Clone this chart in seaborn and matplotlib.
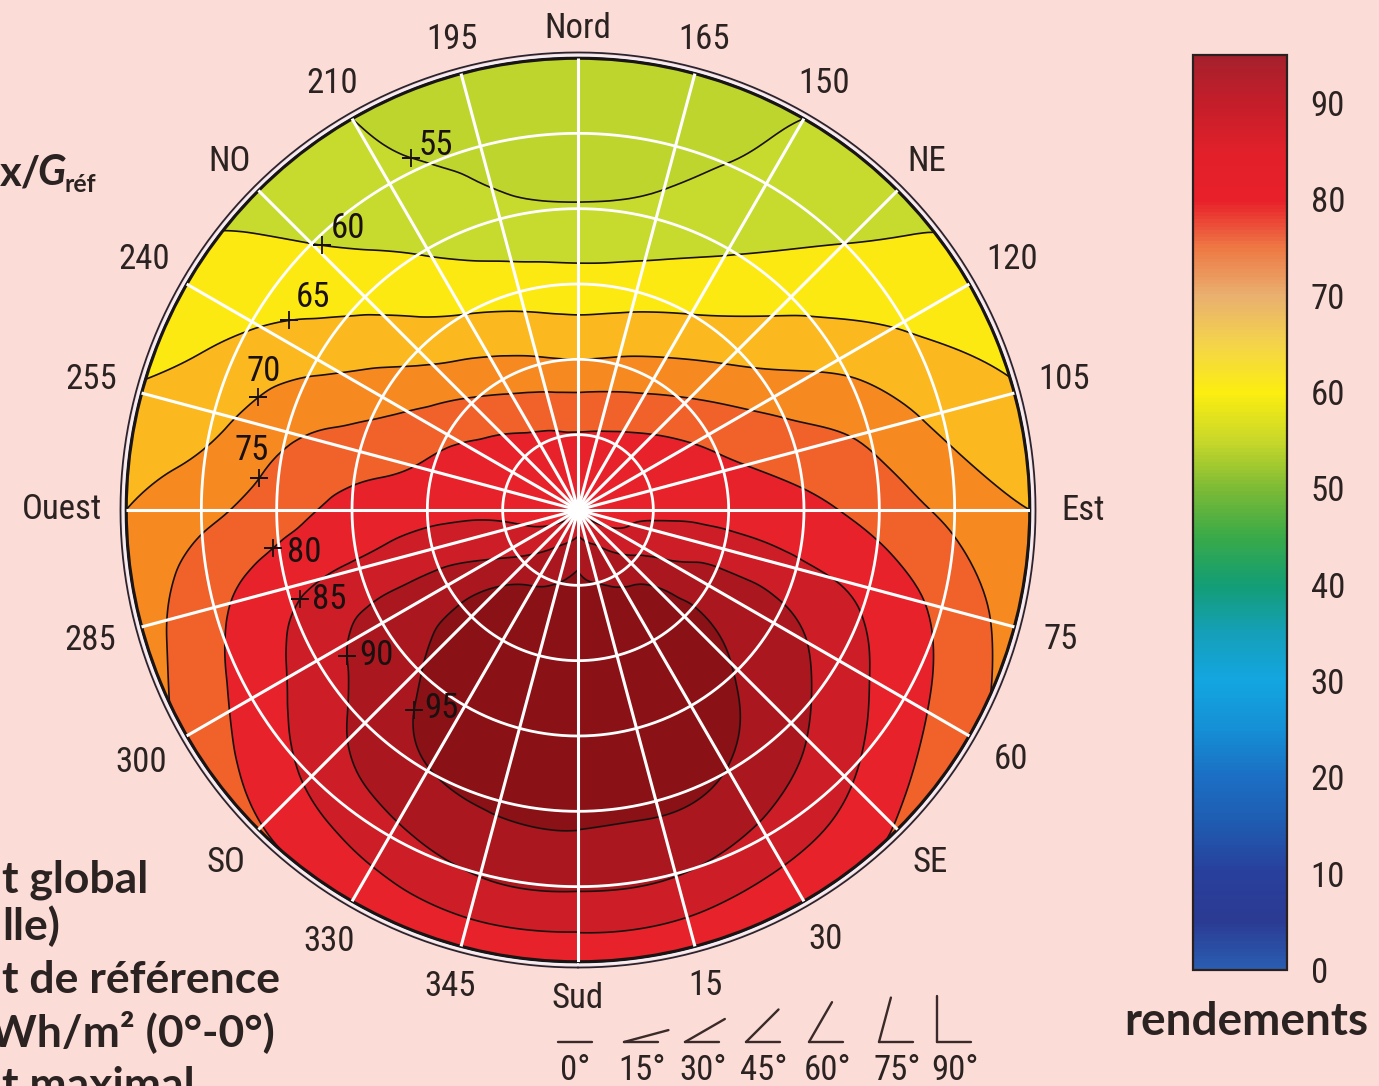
import numpy as np
import pandas as pd
import seaborn as sns
import matplotlib
matplotlib.use("Agg")
import matplotlib.pyplot as plt
import matplotlib.tri as mtri
from matplotlib import font_manager
from matplotlib.colors import ListedColormap, BoundaryNorm, Normalize
from matplotlib.cm import ScalarMappable

# ------------------------------------------------------------------ data
tilt_deg = [0, 10, 20, 30, 45, 60, 75, 90]
azimuth_deg = [0, 15, 30, 45, 60, 75, 90, 105, 120, 135, 150, 165, 180]
# yield (%) read from the disk, one row per tilt, columns = azimuth from south (0) to north (180)
yield_t0 = [84, 84, 84, 84, 84, 84, 84, 84, 84, 84, 84, 84, 84]
yield_t10 = [94, 92.5, 91, 88.5, 86, 84.8, 84.3, 84, 83.5, 83, 82.7, 82.2, 82]
yield_t20 = [96.3, 96.3, 95.8, 94.5, 90.2, 86.5, 84.3, 83, 81.8, 80.5, 79, 78, 77.5]
yield_t30 = [97.3, 97.2, 97, 96, 92.5, 87.3, 83.5, 81, 78.8, 75.8, 73, 71, 70]
yield_t45 = [97.5, 97.5, 97.3, 94.8, 92, 86, 81.5, 77.5, 73, 68.3, 65, 63, 62]
yield_t60 = [96, 95.8, 94.8, 91.5, 87.5, 83.5, 77.8, 74, 68.5, 63.5, 59.5, 56.5, 55.4]
yield_t75 = [90.5, 90.3, 88.5, 86, 82, 78.8, 73.5, 68.5, 64.5, 60, 56.2, 53.8, 52.5]
yield_t90 = [81, 81.2, 80.6, 79.6, 76.2, 72.8, 70, 65.5, 61.75, 58.5, 55, 52.5, 51]

contour_levels = [55, 60, 65, 70, 75, 80, 85, 90, 95]
fill_levels = [50, 55, 60, 65, 70, 75, 80, 85, 90, 95, 100]
band_colors = ["#bed52e", "#c7da2e", "#fde912", "#fbb81f", "#f68a20",
               "#f0622a", "#e8222a", "#cd1d26", "#aa171f", "#8a1116"]
colorbar_ticks = [0, 10, 20, 30, 40, 50, 60, 70, 80, 90]
colorbar_stops = ["#2a5db0", "#2b3a93", "#28409c", "#1f5bb0", "#1b6fc4",
                  "#1590d6", "#13a6e0", "#159fb8", "#139e74", "#3aaa48",
                  "#7dbb35", "#c9d82a", "#fcee10", "#f4d44a", "#e9b070",
                  "#ee7a45", "#e8202a", "#e2202a", "#c41e2a", "#a6202c"]
dir_labels = ["Sud", "15", "30", "SE", "60", "75", "Est", "105", "120", "NE",
              "150", "165", "Nord", "195", "210", "NO", "240", "255", "Ouest",
              "285", "300", "SO", "330", "345"]
dir_label_az = list(range(0, 360, 15))
grid_tilts = [15, 30, 45, 60, 75]
grid_azimuths = list(range(0, 360, 15))
tilt_legend = [0, 15, 30, 45, 60, 75, 90]

# ------------------------------------------------------------------ style
BG = "#fcdcd6"
sns.set_theme(style="white")
avail = {f.name for f in font_manager.fontManager.ttflist}
NARROW, FS = "Liberation Sans", 22
for name, size in [("Roboto Condensed", 25), ("Liberation Sans Narrow", 26),
                   ("Open Sans Condensed", 25)]:
    if name in avail:
        NARROW, FS = name, size
        break
BOLD = "Lato" if "Lato" in avail else "DejaVu Sans"
plt.rcParams["font.family"] = [NARROW, "DejaVu Sans"]
TXT = "#2b2222"

fig = plt.figure(figsize=(13.79, 10.86), dpi=100, facecolor=BG)

# overlay in pixel coordinates for side texts / tilt legend
ax_o = fig.add_axes([0, 0, 1, 1])
ax_o.set_xlim(0, 1379)
ax_o.set_ylim(1086, 0)
ax_o.axis("off")

# ------------------------------------------------------------------ table
table = pd.DataFrame([yield_t0, yield_t10, yield_t20, yield_t30, yield_t45,
                      yield_t60, yield_t75, yield_t90],
                     index=tilt_deg, columns=azimuth_deg)
# symmetric east / west: mirror to 195..360
az_full = azimuth_deg + [360 - a for a in reversed(azimuth_deg[:-1])]
vals_full = np.hstack([table.values, table.values[:, -2::-1]])
ncol = len(az_full)
nrow = len(tilt_deg)
TH, R = np.meshgrid(np.deg2rad(az_full), tilt_deg)
tris = []
for i in range(nrow - 1):
    for j in range(ncol - 1):
        k = i * ncol + j
        tris.append([k, k + 1, k + ncol])
        tris.append([k + 1, k + ncol + 1, k + ncol])
tri = mtri.Triangulation(TH.ravel(), R.ravel(), np.array(tris))
refiner = mtri.UniformTriRefiner(tri)
tri_f, z_f = refiner.refine_field(vals_full.ravel(), subdiv=4)

# ------------------------------------------------------------------ disk
ax = fig.add_axes([126 / 1379, 124 / 1086, 904 / 1379, 904 / 1086], projection="polar")
ax.set_theta_zero_location("S")
ax.set_theta_direction(1)
ax.set_facecolor("none")
ax.grid(False)
ax.set_xticks([])
ax.set_yticks([])

norm_b = BoundaryNorm(fill_levels, len(band_colors))
ax.tricontourf(tri_f, z_f, levels=fill_levels, cmap=ListedColormap(band_colors),
               norm=norm_b, zorder=1, antialiased=True)
cs = ax.tricontour(tri_f, z_f, levels=contour_levels, colors="#1a1010",
                   linewidths=1.2, zorder=2)
ax.set_ylim(0, 90)

th = np.linspace(0, 2 * np.pi, 721)
for r in grid_tilts:
    ax.plot(th, np.full_like(th, r), color="white", lw=2.0, zorder=3)
for a in grid_azimuths:
    ax.plot([np.deg2rad(a)] * 2, [0, 90], color="white", lw=2.2, zorder=3,
            solid_capstyle="butt")
ax.plot([0], [0], "o", color="white", ms=14, alpha=0.6, zorder=3.5)

ax.spines["polar"].set_linewidth(2.6)
ax.spines["polar"].set_color("#1a1414")
ax.plot(th, np.full_like(th, 90.5), color="#f4eef6", lw=1.6, clip_on=False, zorder=5)
ax.plot(th, np.full_like(th, 91.1), color="#2a2430", lw=1.3, clip_on=False, zorder=5)

for az, s in zip(dir_label_az, dir_labels):
    a = np.deg2rad(az)
    rr = (97.2 + 1.1 * len(s) * abs(np.sin(a)) + 0.4 * abs(np.sin(2 * a))
          - 1.3 * max(0.0, -np.cos(a)))
    ax.text(a, rr, s, ha="center", va="center", fontsize=FS, color=TXT,
            clip_on=False)

# contour labels with "+" marks, snapped onto the contour lines
label_anchor_az = [204, 223.6, 237, 251, 263.5, 276, 288, 302, 321]
label_anchor_tilt = [79.6, 73.7, 68.5, 66.9, 65.1, 62.1, 58.1, 54.6, 51.4]
label_offsets = [(7, 12, "left"), (9, 17, "left"), (7, 23, "left"), (5, 26, "center"),
                 (-8, 27, "center"), (14, -4, "left"), (12, 0, "left"),
                 (12, 0, "left"), (10, 2, "left")]
paths = cs.get_paths()
for lev, a0, t0, (dx, dy, ha), p in zip(contour_levels, label_anchor_az,
                                         label_anchor_tilt, label_offsets, paths):
    v = p.vertices
    th0 = np.deg2rad(a0)
    if len(v):
        xs, ys = v[:, 1] * np.sin(v[:, 0]), -v[:, 1] * np.cos(v[:, 0])
        x0, y0 = t0 * np.sin(th0), -t0 * np.cos(th0)
        k = np.argmin((xs - x0) ** 2 + (ys - y0) ** 2)
        pt = (v[k, 0], v[k, 1])
    else:
        pt = (th0, t0)
    ax.plot([pt[0]], [pt[1]], marker="+", ms=13, mew=1.3, color="#1a1010", zorder=6)
    ax.annotate(str(lev), xy=pt, xytext=(dx, dy), textcoords="offset pixels",
                ha=ha, va="center", fontsize=FS, color="#1a1010", zorder=6)

# ------------------------------------------------------------------ colorbar
bar_cmap = sns.blend_palette(colorbar_stops, n_colors=256, as_cmap=True)
cax = fig.add_axes([1193 / 1379, 116 / 1086, 94 / 1379, 915 / 1086])
cb = fig.colorbar(ScalarMappable(norm=Normalize(0, 95), cmap=bar_cmap), cax=cax,
                  ticks=colorbar_ticks)
cb.outline.set_linewidth(1.6)
cb.outline.set_edgecolor("#2a2020")
cax.tick_params(direction="in", length=11, width=1.4, left=True, right=True,
                labelsize=FS, pad=17, colors="#2a2020")
for t in cax.get_yticklabels():
    t.set_fontfamily(NARROW)
    t.set_color(TXT)
ax_o.text(1246, 1022, "rendements", ha="center", va="center", fontsize=33,
          fontweight="bold", family=BOLD, color=TXT)

# ------------------------------------------------------------------ tilt legend
legend_x = [575, 642, 703, 764, 827, 897, 955]
for cx, t in zip(legend_x, tilt_legend):
    if t == 0:
        ax_o.plot([cx - 17, cx + 17], [1042, 1042], color="#3a2a2a", lw=1.7)
    else:
        vx = cx - 18
        ax_o.plot([vx, vx + 34], [1042, 1042], color="#3a2a2a", lw=1.7)
        L = 46
        ax_o.plot([vx, vx + L * np.cos(np.deg2rad(t))],
                  [1042, 1042 - L * np.sin(np.deg2rad(t))], color="#3a2a2a", lw=1.7)
    ax_o.text(cx, 1070, f"{t}°", ha="center", va="center", fontsize=FS, color=TXT)

# ------------------------------------------------------------------ side texts (cropped in the original)
ax_o.text(0, 185, "x/", ha="left", va="baseline", fontsize=30,
          fontweight="bold", family=BOLD, color=TXT)
ax_o.text(37, 185, "G", ha="left", va="baseline", fontsize=30, fontweight="bold",
          fontstyle="italic", family=BOLD, color=TXT)
ax_o.text(64, 192, "réf", ha="left", va="baseline", fontsize=18, fontweight="bold",
          family=BOLD, color=TXT)
side_lines = [("t global", 2, 892), ("lle)", 2, 940),
              ("t de référence", 2, 993), ("Wh/m² (0°-0°)", -10, 1046),
              ("t maximal", 2, 1099)]
for s, xl, yb in side_lines:
    ax_o.text(xl, yb, s, ha="left", va="baseline", fontsize=32, fontweight="bold",
              family=BOLD, color=TXT)

fig.savefig("out.png", dpi=100, facecolor=BG)
